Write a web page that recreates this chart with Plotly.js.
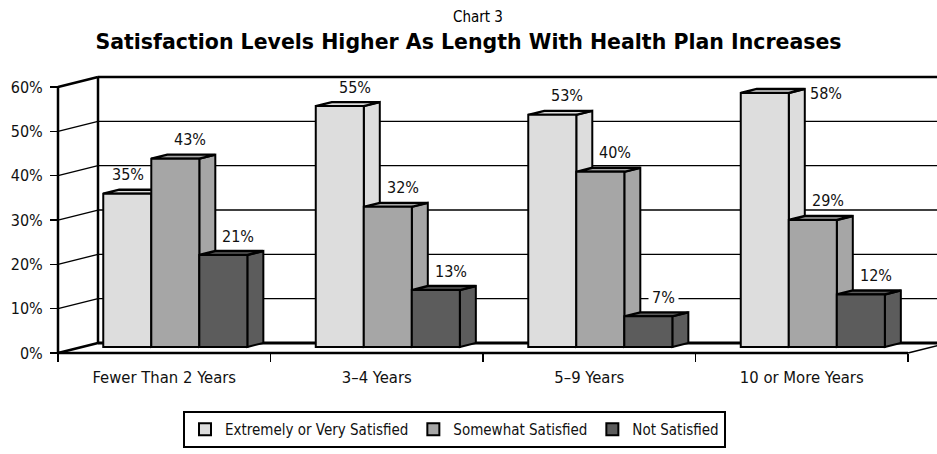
<!DOCTYPE html>
<html>
<head>
<meta charset="utf-8">
<script src="https://cdn.plot.ly/plotly-3.0.1.min.js"></script>
<style>html,body{margin:0;padding:0;background:#fff}#chart{width:937px;height:454px}</style>
</head>
<body>
<div id="chart"></div>
<script>
// ---- data ----
const categories = ['Fewer Than 2 Years', '3\u20134 Years', '5\u20139 Years', '10 or More Years'];
const seriesNames = ['Extremely or Very Satisfied', 'Somewhat Satisfied', 'Not Satisfied'];
const extremelySatisfied = [35, 55, 53, 58];
const somewhatSatisfied = [43, 32, 40, 29];
const notSatisfied = [21, 13, 7, 12];
const yTickValues = [0, 10, 20, 30, 40, 50, 60];
const yTickLabels = ['0%', '10%', '20%', '30%', '40%', '50%', '60%'];
const titleLine1 = 'Chart 3';
const titleLine2 = 'Satisfaction Levels Higher As Length With Health Plan Increases';

// ---- layout / style ----
const seriesValues = [extremelySatisfied, somewhatSatisfied, notSatisfied];
const colors = ['#dddddd', '#a6a6a6', '#5c5c5c'];
const FONT = '"DejaVu Sans Condensed", "Liberation Sans Narrow", sans-serif';
const W = 937, H = 454, mL = 40, mR = 0, mT = 75, mB = 92;
const plotW = W - mL - mR, plotH = H - mT - mB;
const xPer = 212.5;                     // px per category
const frontLeftPx = 58, frontZeroPx = 353, barZeroPx = 347, bottomPx = H - mB;
const xStart = -0.5 - (frontLeftPx - mL) / xPer;
const xRange = [xStart, xStart + plotW / xPer];
const yPer = 4.433, y2Per = 4.38;       // px per percent: walls / bars
const yRange = [-(bottomPx - frontZeroPx) / yPer, (frontZeroPx - mT) / yPer];
const y2Range = [-(bottomPx - barZeroPx) / y2Per, (barZeroPx - mT) / y2Per];
const dX = 40 / xPer, dY = 10 / yPer;   // wall depth
const bX = 16 / xPer, bY = 4 / y2Per;   // bar depth
const barOffsets = [-0.287, -0.061, 0.165];
const barWidth = 0.226;
const labelShift = [[[1, 19], [15, 19], [15, 19], [61, -1]],
                    [[15, 19], [15, 19], [15, 19], [15, 19]],
                    [[15, 19], [15, 19], [15, 19], [15, 19]]];
const labelBoxed = [[false, false, false, false], [false, false, false, false], [false, false, true, false]];

const catIdx = categories.map((c, i) => i);
const catBounds = [-0.5].concat(catIdx.map(i => i + 0.5));

const traces = seriesValues.map((vals, s) => ({
  type: 'bar',
  name: seriesNames[s],
  x: catIdx,
  y: vals,
  xaxis: 'x',
  yaxis: 'y2',
  width: barWidth,
  offset: barOffsets[s],
  marker: {color: colors[s], line: {color: '#000', width: 2}},
  hoverinfo: 'skip'
}));

const shapes = [];
function addLine(xa, ya, xb, yb, w) {
  shapes.push({type: 'line', xref: 'x', yref: 'y', x0: xa, y0: ya, x1: xb, y1: yb,
    layer: 'below', line: {color: '#000', width: w}});
}
const wallLeft = -0.5, wallRight = categories.length - 0.5, wallTop = yTickValues[yTickValues.length - 1];
// wall gridlines
yTickValues.forEach(v => {
  if (v === 0 || v === wallTop) return;
  addLine(wallLeft, v, wallLeft + dX, v + dY, 1.3);
  addLine(wallLeft + dX, v + dY, wallRight + dX, v + dY, 1.3);
});
// structure
addLine(wallLeft, 0, wallLeft, wallTop, 2.5);
addLine(wallLeft, wallTop, wallLeft + dX, wallTop + dY, 2.5);
addLine(wallLeft + dX, dY, wallLeft + dX, wallTop + dY, 2.5);
addLine(wallLeft + dX, wallTop + dY, wallRight + dX, wallTop + dY, 2.5);
addLine(wallLeft, 0, wallLeft + dX, dY, 2.5);
addLine(wallLeft + dX, dY, wallRight + dX, dY, 2.8);
addLine(wallLeft, 0, wallRight, 0, 2.5);
addLine(wallRight, 0, wallRight + dX, dY, 1.6);

// bar side and top faces (drawn in the bars' overlay layer, beneath the bar fronts)
categories.forEach((c, i) => {
  seriesValues.forEach((vals, s) => {
    const v = vals[i];
    const xl = i + barOffsets[s], xr = xl + barWidth;
    shapes.push({type: 'path', xref: 'x', yref: 'y2', layer: 'below',
      path: `M${xr},0 L${xr + bX},${bY} L${xr + bX},${v + bY} L${xr},${v} Z`,
      fillcolor: colors[s], line: {color: '#000', width: 2}});
    shapes.push({type: 'path', xref: 'x', yref: 'y2', layer: 'below',
      path: `M${xl},${v} L${xl + bX},${v + bY} L${xr + bX},${v + bY} L${xr},${v} Z`,
      fillcolor: colors[s], line: {color: '#000', width: 2.4}});
  });
});

const annotations = [];
seriesValues.forEach((vals, s) => {
  vals.forEach((v, i) => {
    annotations.push({
      xref: 'x', yref: 'y2', x: i + barOffsets[s] + barWidth / 2, y: v,
      xshift: labelShift[s][i][0], yshift: labelShift[s][i][1],
      text: v + '%', showarrow: false, xanchor: 'center', yanchor: 'middle',
      font: {family: FONT, size: 16, color: '#111'},
      bgcolor: labelBoxed[s][i] ? '#ffffff' : 'rgba(0,0,0,0)', borderpad: 3
    });
  });
});
annotations.push({
  xref: 'paper', yref: 'paper', x: (478 - mL) / plotW, y: (bottomPx - 17) / plotH,
  text: titleLine1, showarrow: false, xanchor: 'center', yanchor: 'middle',
  font: {family: FONT, size: 15, color: '#000'}
});

const layout = {
  width: W, height: H,
  margin: {l: mL, r: mR, t: mT, b: mB, pad: 0},
  paper_bgcolor: '#fff', plot_bgcolor: 'rgba(0,0,0,0)',
  barmode: 'overlay',
  showlegend: true,
  title: {text: '<b>' + titleLine2 + '</b>', x: 0.5, xanchor: 'center', y: 1 - 42 / H, yanchor: 'middle',
    font: {family: '"DejaVu Sans", Verdana, sans-serif', size: 20.5, color: '#000'}},
  xaxis: {range: xRange, anchor: 'free', position: (bottomPx - frontZeroPx) / plotH,
    tickmode: 'array', tickvals: catIdx, ticktext: categories, ticks: '',
    ticklabelstandoff: 12, tickfont: {family: FONT, size: 16.5, color: '#111'},
    minor: {tickmode: 'array', tickvals: catBounds, ticks: 'outside', ticklen: 8, tickwidth: 1.5, tickcolor: '#000', showgrid: false},
    showgrid: false, zeroline: false, showline: false, fixedrange: true},
  yaxis: {range: yRange, anchor: 'free', position: (frontLeftPx - mL) / plotW,
    tickmode: 'array', tickvals: yTickValues, ticktext: yTickLabels,
    ticks: 'outside', ticklen: 8, tickwidth: 1.5, tickcolor: '#000', ticklabelstandoff: 4,
    tickfont: {family: FONT, size: 16, color: '#111'},
    showgrid: false, zeroline: false, showline: false, fixedrange: true},
  yaxis2: {range: y2Range, overlaying: 'y', anchor: 'x', visible: false, fixedrange: true},
  legend: {orientation: 'h', x: (183 - mL) / plotW, xanchor: 'left', y: (bottomPx - 411) / plotH, yanchor: 'top',
    bgcolor: '#fff', bordercolor: '#000', borderwidth: 2,
    font: {family: FONT, size: 15, color: '#111'}},
  shapes: shapes,
  annotations: annotations
};

Plotly.newPlot('chart', traces, layout, {displayModeBar: false, staticPlot: true});
</script>
</body>
</html>
